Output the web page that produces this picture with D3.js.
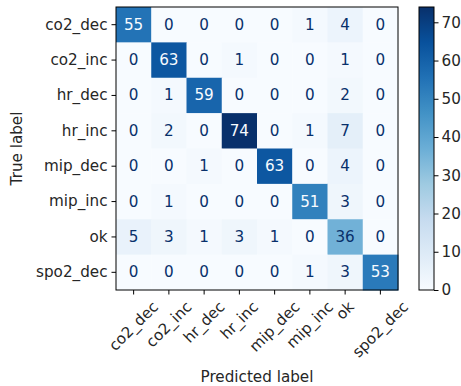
<!DOCTYPE html>
<html><head><meta charset="utf-8">
<script src="https://cdn.jsdelivr.net/npm/d3@7"></script>
<style>body{margin:0;background:#fff}svg{display:block;font-family:"DejaVu Sans",sans-serif}</style>
</head><body>
<script>
const labels = ["co2_dec","co2_inc","hr_dec","hr_inc","mip_dec","mip_inc","ok","spo2_dec"];
const matrix = [
  [55,0,0,0,0,1,4,0],
  [0,63,0,1,0,0,1,0],
  [0,1,59,0,0,0,2,0],
  [0,2,0,74,0,1,7,0],
  [0,0,1,0,63,0,4,0],
  [0,1,0,0,0,51,3,0],
  [5,3,1,3,1,0,36,0],
  [0,0,0,0,0,1,3,53]
];
const cbTicks = [0,10,20,30,40,50,60,70];
const blues = ["#f7fbff","#deebf7","#c6dbef","#9ecae1","#6baed6","#4292c6","#2171b5","#08519c","#08306b"];

const W=461,H=386;
const L=116,T=7,R=398,B=290;
const fs=15.2;
const svg=d3.select("body").append("svg").attr("width",W).attr("height",H);
const vmin=0,vmax=d3.max(matrix.flat());
const cmap=d3.scaleLinear().domain(blues.map((_,i)=>vmin+(vmax-vmin)*i/(blues.length-1))).range(blues).interpolate(d3.interpolateRgb);
const x=d3.scaleBand().domain(labels).range([L,R]);
const y=d3.scaleBand().domain(labels).range([T,B]);
const cells=[];
matrix.forEach((row,i)=>row.forEach((v,j)=>cells.push({r:labels[i],c:labels[j],v})));
svg.append("g").selectAll("rect").data(cells).join("rect")
  .attr("x",d=>x(d.c)).attr("y",d=>y(d.r)).attr("width",x.bandwidth()+0.5).attr("height",y.bandwidth()+0.5)
  .attr("fill",d=>cmap(d.v));
const thresh=(vmax+vmin)/2;
svg.append("g").selectAll("text").data(cells).join("text")
  .attr("x",d=>x(d.c)+x.bandwidth()/2).attr("y",d=>y(d.r)+y.bandwidth()/2)
  .attr("text-anchor","middle").attr("dominant-baseline","central")
  .attr("font-size",fs).attr("fill",d=>d.v<thresh?blues[8]:blues[0]).text(d=>d.v);
svg.append("rect").attr("x",L).attr("y",T).attr("width",R-L).attr("height",B-T).attr("fill","none").attr("stroke","#000").attr("stroke-width",1);

const xa=svg.append("g").attr("transform",`translate(0,${B})`).call(d3.axisBottom(x).tickSize(4.5).tickPadding(3));
xa.select(".domain").remove();
const top0=4.5+3.5;
xa.selectAll("text").attr("font-size",fs).attr("fill","#262626").attr("font-family","DejaVu Sans")
  .attr("text-anchor","middle").attr("dominant-baseline","central").attr("dy",null)
  .each(function(){
    const t=d3.select(this);
    const w=this.getComputedTextLength(), h=fs*1.16;
    const half=(w+h)*Math.SQRT1_2/2;
    t.attr("y",0).attr("transform",`translate(0,${top0+half}) rotate(-45)`);
  });
const ya=svg.append("g").attr("transform",`translate(${L},0)`).call(d3.axisLeft(y).tickSize(4.5).tickPadding(4));
ya.select(".domain").remove();
ya.selectAll("text").attr("font-size",fs).attr("fill","#262626").attr("font-family","DejaVu Sans");

svg.append("text").attr("x",(L+R)/2).attr("y",382).attr("text-anchor","middle").attr("font-size",fs).attr("fill","#262626").text("Predicted label");
svg.append("text").attr("transform",`translate(22,${(T+B)/2}) rotate(-90)`).attr("text-anchor","middle").attr("font-size",fs).attr("fill","#262626").text("True label");

// colorbar
const CL=419,CR=434;
const cy=d3.scaleLinear().domain([vmin,vmax]).range([B,T]);
const defs=svg.append("defs");
const grad=defs.append("linearGradient").attr("id","cb").attr("x1",0).attr("y1",1).attr("x2",0).attr("y2",0);
blues.forEach((c,i)=>grad.append("stop").attr("offset",i/(blues.length-1)).attr("stop-color",c));
svg.append("rect").attr("x",CL).attr("y",T).attr("width",CR-CL).attr("height",B-T).attr("fill","url(#cb)").attr("stroke","#000").attr("stroke-width",1);
const ca=svg.append("g").attr("transform",`translate(${CR},0)`).call(d3.axisRight(cy).tickValues(cbTicks).tickSize(4.5).tickPadding(3));
ca.select(".domain").remove();
ca.selectAll("text").attr("font-size",fs).attr("fill","#262626").attr("font-family","DejaVu Sans");
</script>
</body></html>
